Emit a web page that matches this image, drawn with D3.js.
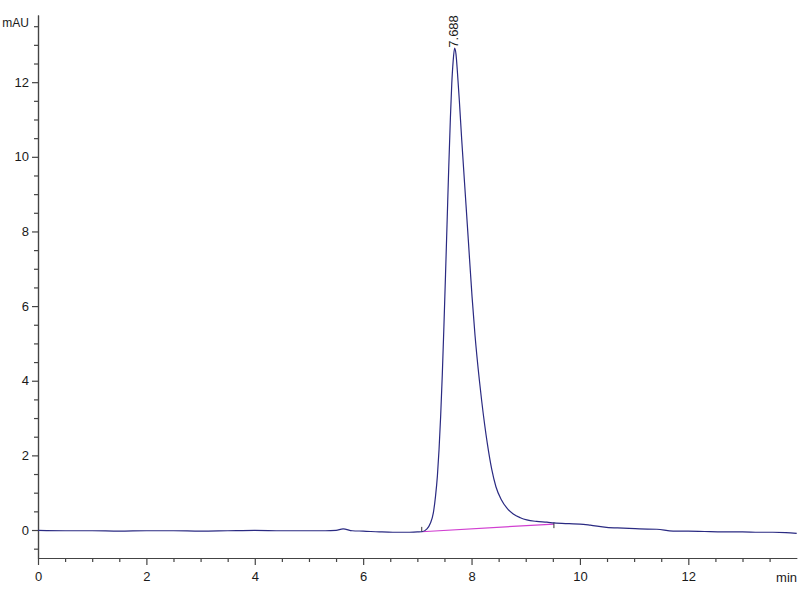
<!DOCTYPE html>
<html>
<head>
<meta charset="utf-8">
<script src="https://cdn.jsdelivr.net/npm/d3@7"></script>
<style>
  html, body { margin: 0; padding: 0; background: #fff; }
  svg { display: block; }
  text { font-family: "Liberation Sans", Arial, sans-serif; fill: #1a1a1a; }
</style>
</head>
<body>
<svg id="chart" width="800" height="600"></svg>
<script>
// ---- Data ----
const times = [0, 0.5, 1, 1.5, 2, 2.5, 3, 3.5, 4, 4.5, 5, 5.3, 5.5, 5.63, 5.8, 6.0, 6.3, 6.55, 6.8, 7.0,
  7.081, 7.178, 7.24, 7.295, 7.335, 7.37, 7.40, 7.43, 7.46, 7.49, 7.52, 7.55, 7.58, 7.61, 7.635, 7.66, 7.688,
  7.713, 7.738, 7.775, 7.819, 7.898, 7.941, 8.009, 8.064, 8.144, 8.188, 8.291, 8.372, 8.45, 8.55, 8.65, 8.77, 8.9, 9.02, 9.2, 9.39, 9.52,
  9.8, 10.0, 10.19, 10.49, 10.8, 11.1, 11.42, 11.72, 12.0, 12.3, 12.64, 13.0, 13.3, 13.56, 13.8, 14.0];
const absorbance = [-0.01, -0.02, -0.02, -0.03, -0.02, -0.02, -0.03, -0.02, -0.01, -0.02, -0.02, -0.02, -0.01, 0.03, -0.02, -0.03, -0.05, -0.06, -0.06, -0.05,
  -0.046, 0.03, 0.18, 0.46, 0.90, 1.45, 2.15, 3.05, 4.15, 5.45, 6.85, 8.30, 9.75, 11.05, 11.95, 12.55, 12.91,
  12.75, 12.3, 11.5, 10.45, 8.71, 7.76, 6.26, 5.22, 4.02, 3.45, 2.32, 1.63, 1.16, 0.81, 0.59, 0.43, 0.33, 0.27, 0.23, 0.21, 0.19,
  0.17, 0.16, 0.13, 0.07, 0.05, 0.03, 0.02, -0.03, -0.03, -0.04, -0.05, -0.05, -0.06, -0.06, -0.07, -0.09];

const peakTimes = [7.688];
const peakHeights = [12.91];
const peakLabels = ["7.688"];

const baselineTimes = [7.081, 9.52];
const baselineValues = [-0.046, 0.16];

const yTickValues = [0, 2, 4, 6, 8, 10, 12];
const xTickValues = [0, 2, 4, 6, 8, 10, 12];
const yUnit = "mAU";
const xUnit = "min";

// ---- Layout ----
const svg = d3.select("#chart");
const x = d3.scaleLinear().domain([0, 14]).range([38, 796.7]);
const y = d3.scaleLinear().domain([-0.75, 13.8]).range([558, 15]);

const axisColor = "#444";

// minor ticks
const yMinor = d3.range(-0.5, 13.8, 0.5).filter(v => !yTickValues.includes(v));
const xMinor = d3.range(0.5, 14, 0.5).filter(v => !xTickValues.includes(v));

const gyMinor = svg.append("g").attr("transform", `translate(${x(0)},0)`)
  .call(d3.axisLeft(y).tickValues(yMinor).tickSize(4).tickSizeOuter(0).tickFormat(""));
const gy = svg.append("g").attr("transform", `translate(${x(0)},0)`)
  .call(d3.axisLeft(y).tickValues(yTickValues).tickSize(6).tickSizeOuter(0).tickPadding(3).tickFormat(d3.format("d")));

const gxMinor = svg.append("g").attr("transform", `translate(0,${y.range()[0]})`)
  .call(d3.axisBottom(x).tickValues(xMinor).tickSize(4).tickSizeOuter(0).tickFormat(""));
const gx = svg.append("g").attr("transform", `translate(0,${y.range()[0]})`)
  .call(d3.axisBottom(x).tickValues(xTickValues).tickSize(7).tickSizeOuter(0).tickPadding(7).tickFormat(d3.format("d")));

[gyMinor, gy, gxMinor, gx].forEach(g => {
  g.selectAll("path, line").attr("stroke", axisColor).attr("stroke-width", 1.2);
  g.selectAll("text").attr("font-size", 13).attr("fill", "#1a1a1a")
    .attr("font-family", "'Liberation Sans', Arial, sans-serif");
});

// unit labels
svg.append("text").attr("x", 29).attr("y", 27).attr("text-anchor", "end")
  .attr("font-size", 12).text(yUnit);
svg.append("text").attr("x", 797).attr("y", 582).attr("text-anchor", "end")
  .attr("font-size", 13).text(xUnit);

// baseline (integration) line
svg.append("line")
  .attr("x1", x(baselineTimes[0])).attr("y1", y(baselineValues[0]))
  .attr("x2", x(baselineTimes[1])).attr("y2", y(baselineValues[1]))
  .attr("stroke", "#d13fd1").attr("stroke-width", 1.2);

// event tick marks
baselineTimes.forEach((t, i) => {
  svg.append("line")
    .attr("x1", x(t)).attr("x2", x(t))
    .attr("y1", y(baselineValues[i] + (i === 0 ? 0.13 : 0.04)))
    .attr("y2", y(baselineValues[i] - (i === 0 ? 0 : 0.11)))
    .attr("stroke", "#333").attr("stroke-width", 1);
});

// chromatogram trace
const data = times.map((t, i) => ({ t, v: absorbance[i] }));
svg.append("path")
  .datum(data)
  .attr("fill", "none")
  .attr("stroke", "#2a2a82")
  .attr("stroke-width", 1.2)
  .attr("stroke-linejoin", "round")
  .attr("d", d3.line().x(d => x(d.t)).y(d => y(d.v)).curve(d3.curveMonotoneX));

// peak label
peakTimes.forEach((t, i) => {
  const px = x(t) + 3.5, py = y(peakHeights[i]) - 0.5;
  svg.append("text")
    .attr("transform", `translate(${px},${py}) rotate(-90)`)
    .attr("text-anchor", "start")
    .attr("font-size", 13)
    .text(peakLabels[i]);
});
</script>
</body>
</html>
